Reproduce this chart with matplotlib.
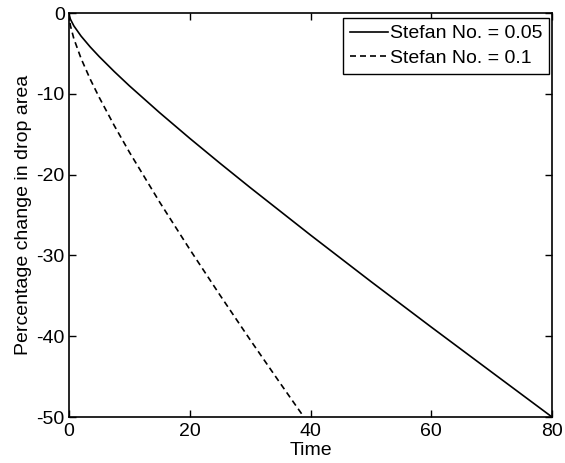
import matplotlib
matplotlib.use("Agg")
import matplotlib.pyplot as plt

plt.rcParams['font.family'] = ['Liberation Sans', 'DejaVu Sans']
plt.rcParams['axes.unicode_minus'] = False

# Percentage change in drop area over time
time_st005 = [0, 0.05, 0.25, 0.8, 2, 3.5, 5, 7.5, 10, 15, 20, 25, 30, 40, 50, 60, 70, 80]
area_st005 = [0, -0.33, -0.79, -1.59, -2.86, -4.19, -5.39, -7.25, -9.01, -12.33,
              -15.51, -18.59, -21.60, -27.48, -33.23, -38.87, -44.44, -50.0]

time_st01 = [0, 0.05, 0.25, 0.8, 2, 3.5, 5, 7.5, 10, 15, 20, 25, 30, 35, 38.9]
area_st01 = [0, -0.67, -1.61, -3.17, -5.63, -8.17, -10.44, -13.94, -17.22,
             -23.39, -29.25, -34.91, -40.44, -45.84, -50.0]

labels = ['Stefan No. = 0.05', 'Stefan No. = 0.1']
xticks = [0, 20, 40, 60, 80]
yticks = [0, -10, -20, -30, -40, -50]

fig = plt.figure(figsize=(5.65, 4.63), dpi=100)
ax = fig.add_axes([69/565, 46/463, 483/565, 404/463])

ax.plot(time_st005, area_st005, color='black', lw=1.2, label=labels[0])
ax.plot(time_st01, area_st01, color='black', lw=1.2, linestyle=(0, (3.6, 2.4)),
        label=labels[1])

ax.set_xlim(0, 80)
ax.set_ylim(-50, 0)
ax.set_xticks(xticks)
ax.set_yticks(yticks)
ax.tick_params(direction='in', length=5, width=1, top=True, right=True,
               labelsize=14)
ax.tick_params(axis='x', pad=4)
ax.tick_params(axis='y', pad=3)
for s in ax.spines.values():
    s.set_linewidth(1.2)

ax.set_xlabel('Time', fontsize=14, labelpad=2)
ax.set_ylabel('Percentage change in drop area', fontsize=14, labelpad=3)

leg = ax.legend(loc='upper right', bbox_to_anchor=(0.9938, 0.9876), borderaxespad=0,
                fontsize=14, handlelength=1.95, handletextpad=0.1, fancybox=False,
                framealpha=1, edgecolor='black', borderpad=0.35, labelspacing=0.35)
leg.get_frame().set_linewidth(1.0)

fig.savefig('out.png', dpi=100)
